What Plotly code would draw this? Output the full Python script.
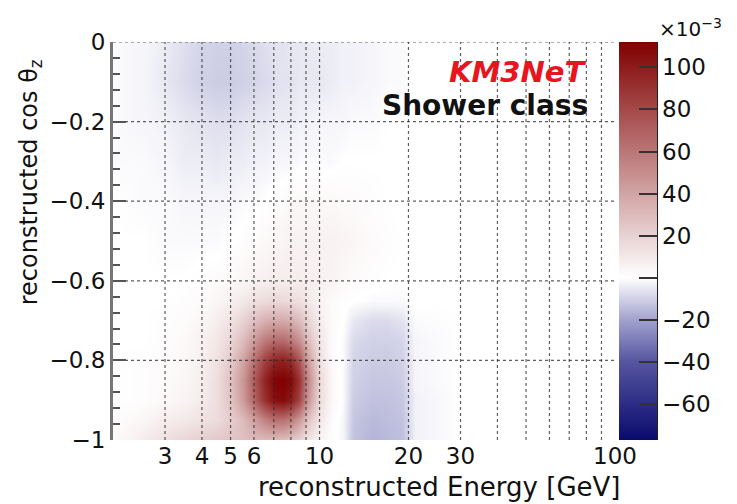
import plotly.graph_objects as go

# --- data (values in units of 1e-3) ---
energy_centers = [2.0, 2.5, 3.0, 3.5, 4.0, 4.5, 5.0, 5.5, 6.0, 6.5, 7.0, 7.5, 8.0,
                  8.5, 9.0, 10.0, 11.0, 12.0, 13.0, 15.0, 17.0, 19.0, 21.0, 30.0, 100.0]
cos_centers = [0.0, -0.1, -0.2, -0.3, -0.4, -0.5, -0.6, -0.65, -0.7, -0.75,
               -0.8, -0.85, -0.9, -0.95, -1.0]
z_rows = [
    [-1, -2, -4, -7, -9, -10, -10, -9, -8, -7, -6, -6, -5, -5, -5, -4, -4, -3, -3, -2, -1, -1, 0, 0, 0],
    [-1, -2, -5, -8, -10, -11, -11, -10, -9, -8, -7, -6, -6, -5, -5, -5, -4, -3, -3, -2, -1, -1, 0, 0, 0],
    [-1, -2, -3, -5, -6, -7, -7, -6, -5, -5, -4, -4, -4, -3, -3, -2, -2, -2, -1, -1, 0, 0, 0, 0, 0],
    [-1, -1, -2, -4, -4, -5, -4, -4, -3, -3, -2, -2, -2, -1, -1, -1, -1, 0, 0, 0, 0, 0, 0, 0, 0],
    [0, -1, -1, -2, -2, -2, -2, -1, -1, 0, 1, 2, 3, 3, 3, 3, 3, 2, 2, 1, 0, 0, 0, 0, 0],
    [0, 0, -1, -1, -1, -1, 0, 1, 2, 3, 4, 5, 6, 6, 6, 6, 6, 5, 4, 2, 1, 0, 0, 0, 0],
    [0, 0, 0, 0, 1, 2, 3, 4, 6, 7, 8, 8, 8, 8, 7, 6, 5, 3, 2, 1, 0, 0, 0, 0, 0],
    [0, 0, 0, 1, 2, 4, 7, 10, 14, 16, 17, 17, 16, 14, 11, 5, 2, 1, 0, -1, -1, -1, 0, 0, 0],
    [0, 0, 1, 2, 4, 8, 13, 20, 28, 35, 38, 38, 36, 30, 21, 8, 2, 0, -5, -8, -8, -6, -1, 0, 0],
    [0, 0, 1, 3, 6, 11, 19, 30, 45, 58, 66, 66, 60, 50, 33, 11, 2, -1, -8, -10, -10, -9, -2, 0, 0],
    [0, 1, 2, 3, 7, 13, 24, 40, 62, 82, 95, 98, 92, 75, 48, 13, 2, -1, -9, -11, -11, -10, -2, 0, 0],
    [0, 1, 2, 4, 8, 15, 28, 46, 72, 95, 110, 112, 108, 90, 58, 16, 3, -1, -10, -12, -12, -11, -2, 0, 0],
    [0, 1, 3, 5, 9, 15, 27, 44, 68, 90, 105, 108, 100, 82, 52, 15, 3, -1, -11, -13, -13, -12, -3, 0, 0],
    [1, 4, 8, 10, 13, 16, 22, 30, 42, 54, 62, 62, 56, 45, 29, 10, 2, -2, -12, -15, -14, -13, -3, 0, 0],
    [2, 8, 14, 18, 22, 24, 26, 28, 30, 30, 30, 28, 25, 20, 13, 5, 1, -2, -13, -16, -15, -14, -3, 0, 0],
]
z_min, z_max = -77, 112

x_tick_vals = [3, 4, 5, 6, 10, 20, 30, 100]
x_tick_text = ["3", "4", "5", "6", "10", "20", "30", "100"]
x_grid = [3, 4, 5, 6, 7, 8, 9, 10, 20, 30, 40, 50, 60, 70, 80, 90]
y_grid = [0.0, -0.2, -0.4, -0.6, -0.8]
cb_tick_vals = [-60, -40, -20, 0, 20, 40, 60, 80, 100]
cb_tick_text = ["\u221260", "\u221240", "\u221220", " ", "20", "40", "60", "80", "100"]

FONT = "DejaVu Sans"

w0 = (0 - z_min) / (z_max - z_min)
colorscale = [
    [0.0, "rgb(10,10,110)"],
    [0.196, "rgb(85,85,160)"],
    [0.30, "rgb(160,160,205)"],
    [w0, "rgb(255,255,255)"],
    [1.0, "rgb(128,0,0)"],
]

fig = go.Figure()
fig.add_trace(go.Heatmap(
    x=energy_centers, y=cos_centers, z=z_rows,
    zmin=z_min, zmax=z_max, colorscale=colorscale, zsmooth="best",
    colorbar=dict(
        x=1.008, xanchor="left", y=0.5, yanchor="middle", len=1.0,
        thickness=38, thicknessmode="pixels", xpad=0, ypad=0,
        outlinewidth=0,
        tickmode="array", tickvals=cb_tick_vals, ticktext=cb_tick_text,
        ticks="inside", ticklen=18, tickwidth=2, tickcolor="#333",
        tickfont=dict(family=FONT, size=23, color="#111"),
    ),
    hoverinfo="skip",
))

# dotted grid drawn above the heatmap
gx, gy = [], []
for v in x_grid:
    gx += [v, v, None]
    gy += [-1, 0, None]
fig.add_trace(go.Scatter(x=gx, y=gy, mode="lines", showlegend=False, hoverinfo="skip",
                         line=dict(color="rgba(40,40,40,0.75)", width=1.2, dash="dot")))
hx, hy = [], []
for v in y_grid:
    hx += [2, 100, None]
    hy += [v, v, None]
fig.add_trace(go.Scatter(x=hx, y=hy, mode="lines", showlegend=False, hoverinfo="skip",
                         line=dict(color="rgba(40,40,40,0.75)", width=1.2, dash="dot")))

# page body adds an 8px margin; size the figure so the plot lands where the reference has it
fig.update_layout(
    width=729, height=496,
    margin=dict(l=105, r=122, t=34, b=64, autoexpand=False),
    paper_bgcolor="white", plot_bgcolor="white",
    font=dict(family=FONT, color="#111"),
    showlegend=False,
    xaxis=dict(type="log", range=[0.30103, 2.0], showgrid=False, zeroline=False,
               showline=False, ticks="", tickmode="array", automargin=False,
               tickvals=x_tick_vals, ticktext=x_tick_text,
               tickfont=dict(family=FONT, size=23, color="#111")),
    yaxis=dict(range=[-1, 0], showgrid=False, zeroline=False, automargin=False,
               showline=True, linecolor="#777", linewidth=3,
               ticks="inside", ticklen=13, tickwidth=2, tickcolor="#555",
               dtick=0.2, tick0=0,
               minor=dict(dtick=0.04, tick0=0, ticks="inside", ticklen=7,
                          tickwidth=2, tickcolor="#555"),
               tickfont=dict(family=FONT, size=23, color="#111")),
    shapes=[dict(type="line", xref="paper", yref="paper", x0=1.0837, x1=1.0837,
                 y0=0, y1=1, line=dict(color="#222", width=2))],
    annotations=[
        dict(text="reconstructed Energy [GeV]", xref="paper", yref="paper",
             x=1.014, y=-0.118, xanchor="right", yanchor="middle", showarrow=False,
             font=dict(family=FONT, size=26, color="#111")),
        dict(text="reconstructed cos \u03b8<sub>z</sub>", xref="paper", yref="paper",
             x=-0.165, y=0.648, xanchor="center", yanchor="middle", textangle=-90,
             showarrow=False, font=dict(family=FONT, size=24, color="#111")),
        dict(text="<b><i>KM3NeT</i></b>", xref="paper", yref="paper",
             x=0.946, y=0.925, xanchor="right", yanchor="middle", showarrow=False,
             font=dict(family=FONT, size=29, color="#e8141e")),
        dict(text="<b>Shower class</b>", xref="paper", yref="paper",
             x=0.95, y=0.84, xanchor="right", yanchor="middle", showarrow=False,
             font=dict(family=FONT, size=28, color="#111")),
        dict(text="\u00d710<sup>\u22123</sup>", xref="paper", yref="paper",
             x=1.0837, y=1.035, xanchor="left", yanchor="middle", showarrow=False,
             font=dict(family=FONT, size=20, color="#111")),
    ],
)

fig.write_html("out.html")
